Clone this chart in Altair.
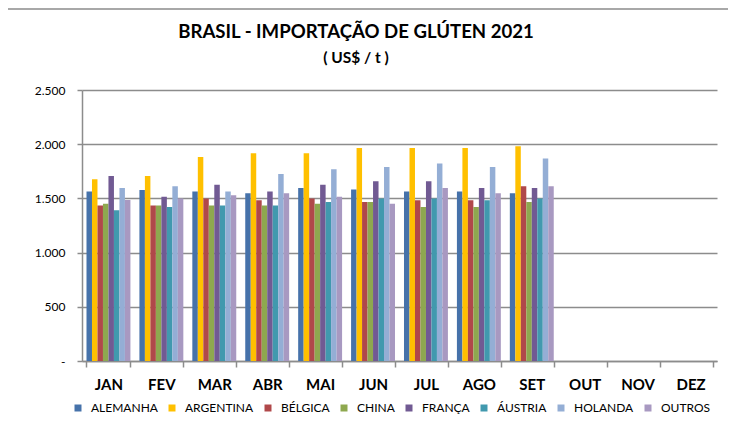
import altair as alt
import pandas as pd

months = ["JAN", "FEV", "MAR", "ABR", "MAI", "JUN", "JUL", "AGO", "SET", "OUT", "NOV", "DEZ"]
countries = ["ALEMANHA", "ARGENTINA", "BÉLGICA", "CHINA", "FRANÇA", "ÁUSTRIA", "HOLANDA", "OUTROS"]
colors = ["#4672AA", "#FFC000", "#B0484A", "#8EA84F", "#715A93", "#4199AE", "#94AED5", "#A899C1"]

alemanha  = [1563, 1578, 1563, 1548, 1596, 1581, 1563, 1563, 1548, None, None, None]
argentina = [1677, 1707, 1883, 1916, 1916, 1964, 1964, 1964, 1982, None, None, None]
belgica   = [1435, 1435, 1500, 1483, 1500, 1467, 1483, 1483, 1611, None, None, None]
china     = [1450, 1435, 1435, 1435, 1450, 1467, 1420, 1420, 1467, None, None, None]
franca    = [1707, 1516, 1626, 1563, 1626, 1659, 1659, 1596, 1596, None, None, None]
austria   = [1390, 1420, 1435, 1435, 1467, 1500, 1500, 1483, 1500, None, None, None]
holanda   = [1596, 1611, 1563, 1725, 1770, 1790, 1821, 1790, 1868, None, None, None]
outros    = [1486, 1500, 1530, 1548, 1516, 1450, 1596, 1548, 1611, None, None, None]

title_text = ["BRASIL - IMPORTAÇÃO  DE GLÚTEN 2021"]
subtitle_text = ["( US$ / t )"]

series = [alemanha, argentina, belgica, china, franca, austria, holanda, outros]

rows = []
for c, vals in zip(countries, series):
    for m, v in zip(months, vals):
        rows.append({"mes": m, "pais": c, "valor": v})
df = pd.DataFrame(rows)

FONT = "Lato"
W, H = 635, 271
GRAY = "#8c8c8c"

bars = alt.Chart(df).mark_bar().encode(
    x=alt.X("mes:N", sort=months,
            scale=alt.Scale(domain=months, paddingInner=0.17, paddingOuter=0.085),
            axis=alt.Axis(title=None, labelAngle=0, labelFont=FONT, labelFontSize=15,
                          labelFontWeight="bold", labelColor="#000000", labelPadding=10,
                          tickBand="extent", tickSize=6, tickColor=GRAY,
                          domainColor=GRAY, domainWidth=1.5, tickWidth=1.5, grid=False)),
    xOffset=alt.XOffset("pais:N", sort=countries, scale=alt.Scale(domain=countries)),
    y=alt.Y("valor:Q", scale=alt.Scale(domain=[0, 2500], nice=False),
            axis=alt.Axis(title=None, values=[0, 500, 1000, 1500, 2000, 2500],
                          labelExpr="datum.value == 0 ? '-' : replace(format(datum.value, ','), ',', '.')",
                          labelFont=FONT, labelFontSize=12, labelColor="#000000", labelPadding=12,
                          tickSize=5, tickColor=GRAY, tickWidth=1.5,
                          domainColor=GRAY, domainWidth=1.5,
                          grid=True, gridColor=GRAY, gridWidth=1.5)),
    color=alt.Color("pais:N", sort=countries,
                    scale=alt.Scale(domain=countries, range=colors),
                    legend=alt.Legend(title=None, orient="none", direction="horizontal",
                                      columns=8, legendX=-10, legendY=312, padding=0,
                                      symbolType="square", symbolSize=49, symbolStrokeWidth=0,
                                      labelFont=FONT, labelFontSize=12, labelColor="#000000",
                                      columnPadding=8, symbolOffset=0, labelOffset=7)),
)

frame = alt.Chart(pd.DataFrame({"k": [0]})).mark_rect(
    fill=None, stroke=GRAY, strokeWidth=1.5
).encode(
    x=alt.value(-75), x2=alt.value(W + 40),
    y=alt.value(-81), y2=alt.value(H + 120),
)

title = alt.Chart(pd.DataFrame({"t": title_text})).mark_text(
    font=FONT, fontSize=18.6, fontWeight="bold", color="#000000",
    align="center", baseline="alphabetic"
).encode(text="t:N", x=alt.value(274), y=alt.value(-52))

subtitle = alt.Chart(pd.DataFrame({"t": subtitle_text})).mark_text(
    font=FONT, fontSize=15.5, fontWeight="bold", color="#000000",
    align="center", baseline="alphabetic"
).encode(text="t:N", x=alt.value(274), y=alt.value(-27))

chart = alt.layer(frame, bars, title, subtitle).properties(
    width=W, height=H,
    background="white",
    autosize=alt.AutoSizeParams(type="none"),
    padding={"left": 74, "top": 82, "right": 11, "bottom": 57},
).configure_view(stroke="transparent", strokeWidth=0)

chart.save("out.html", embed_options={"renderer": "svg", "actions": False})
